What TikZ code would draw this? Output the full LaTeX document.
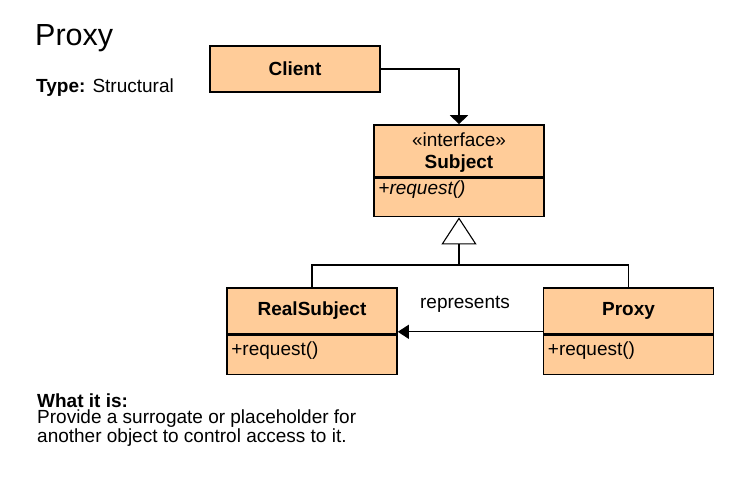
\documentclass[tikz,border=0pt]{standalone}
\usepackage{fontspec}
\setmainfont{Liberation Sans}
\usetikzlibrary{arrows.meta}
\definecolor{peach}{HTML}{FFCC99}
\begin{document}
\begin{tikzpicture}[x=1pt,y=-1pt,font=\fontsize{19}{22}\selectfont,
	cls/.style={draw,fill=peach,line width=1.6pt,minimum width=170pt,inner sep=0pt},
	meth/.style={anchor=base west,inner sep=0pt},
	txt/.style={anchor=base west,inner sep=0pt},
	conn/.style={line width=1.1pt}]
	\useasboundingbox (0,0) rectangle (747,484);
	%\draw[step=10,gray!20] (0,0) grid (747,484); %Hilfsgitter
	\node[txt,font=\fontsize{30.5}{36}\selectfont] (title) at (35,46) {Proxy};
	\node[txt] (type) at (36,93) {\textbf{Type:} Structural};
	% Klassen
	\node[cls,minimum height=46pt] (client) at (295,69) {\bfseries Client};
	\node[cls,minimum height=52pt,align=center,text depth=0pt] (subject) at (459,151) {«interface»\\\bfseries Subject};
	\node[cls,minimum height=38pt,anchor=north] (subjectops) at (subject.south) {};
	\node[meth] (subjectreq) at ([shift={(5,17)}]subjectops.north west) {\itshape +request()};
	\node[cls,minimum height=46pt] (real) at (312,311) {\bfseries RealSubject};
	\node[cls,minimum height=39pt,anchor=north] (realops) at (real.south) {};
	\node[meth] (realreq) at ([shift={(5,21)}]realops.north west) {+request()};
	\node[cls,minimum height=46pt] (proxy) at (628.5,311) {\bfseries Proxy};
	\node[cls,minimum height=39pt,anchor=north] (proxyops) at (proxy.south) {};
	\node[meth] (proxyreq) at ([shift={(5,21)}]proxyops.north west) {+request()};
	% Verbindungen
	\draw[conn,-{Triangle[width=18pt,length=9pt]}] (client.east) -| (subject.north);
	\coordinate (fork) at (459,265);
	\draw[conn] (real.north) |- (fork) -| (proxy.north);
	\draw[conn,-{Triangle[open,width=35pt,length=27pt]}] (fork) -- (subjectops.south);
	\draw[conn,-{Triangle[width=14pt,length=11pt]}] ([yshift=3pt]proxy.south west) -- ([yshift=3pt]real.south east);
	\node[anchor=base,inner sep=0pt] (represents) at (465,308) {represents};
	\node[txt] (whatis) at (37,407) {\bfseries What it is:};
	\node[txt,align=left,font=\fontsize{19}{17.5}\selectfont] (intent) at (37,442) {Provide a surrogate or placeholder for\\another object to control access to it.};
\end{tikzpicture}
\end{document}
